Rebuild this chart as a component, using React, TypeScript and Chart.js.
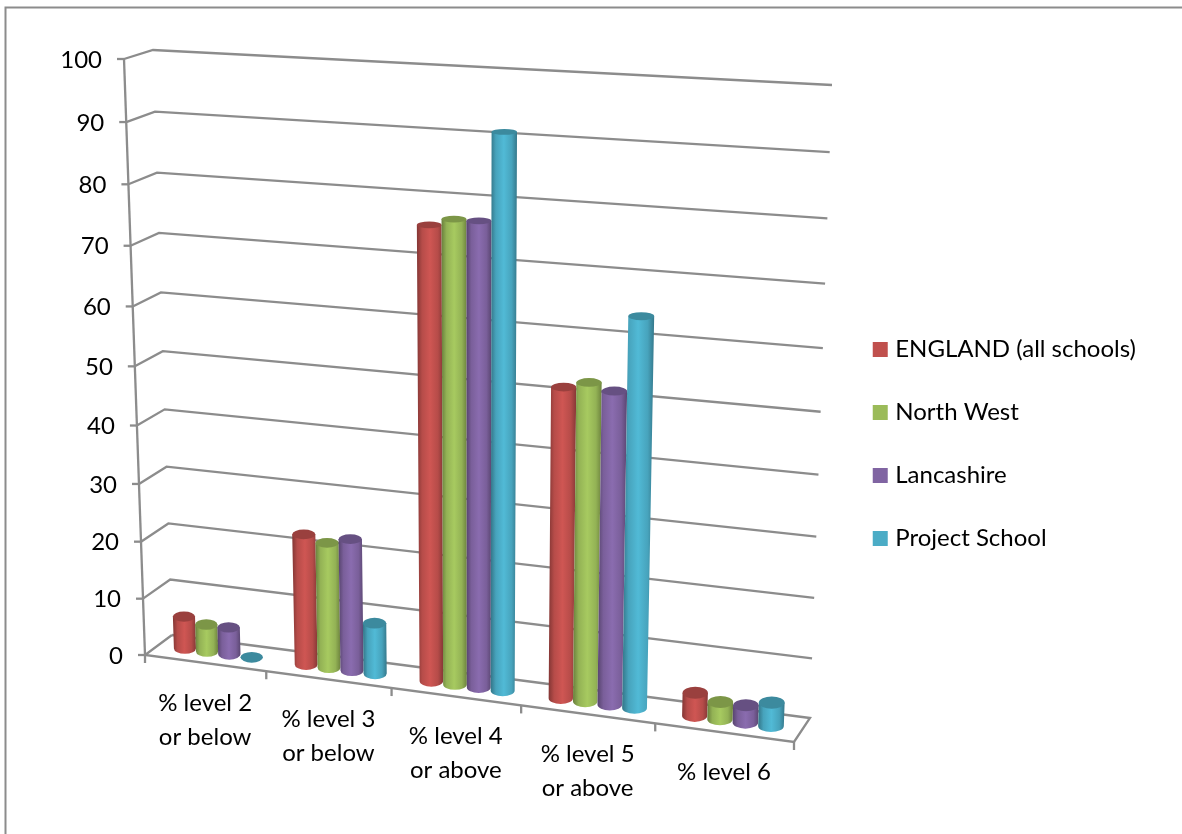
import React, { useEffect, useRef } from "react";
import { Chart, registerables } from "chart.js";

Chart.register(...registerables);

const categories = [
  ["% level 2", "or below"],
  ["% level 3", "or below"],
  ["% level 4", "or above"],
  ["% level 5", "or above"],
  ["% level 6"],
];
const englandValues = [5.7, 22.7, 75.8, 51.7, 3.9];
const northWestValues = [4.8, 21.7, 77, 52.8, 2.9];
const lancashireValues = [4.8, 22.8, 77, 51.8, 2.9];
const projectSchoolValues = [0, 8.8, 91.1, 64, 3.9];
const yTicks = { min: 0, max: 100, step: 10 };

const COLORS = ["#C0504D", "#9BBB59", "#8064A2", "#4BACC6"];
const FONT = "Lato, Carlito, sans-serif";
const GRID = "#8c8c8c";

type Pt = { x: number; y: number };
type Quad = [Pt, Pt, Pt, Pt];

// Perspective map from the unit square onto a quadrilateral
function squareToQuad(q: Quad) {
  const [p0, p1, p2, p3] = q;
  const sx = p0.x - p1.x + p2.x - p3.x;
  const sy = p0.y - p1.y + p2.y - p3.y;
  const dx1 = p1.x - p2.x;
  const dx2 = p3.x - p2.x;
  const dy1 = p1.y - p2.y;
  const dy2 = p3.y - p2.y;
  const den = dx1 * dy2 - dx2 * dy1;
  const g = (sx * dy2 - dx2 * sy) / den;
  const h = (dx1 * sy - sx * dy1) / den;
  const a = p1.x - p0.x + g * p1.x;
  const b = p3.x - p0.x + h * p3.x;
  const d = p1.y - p0.y + g * p1.y;
  const e = p3.y - p0.y + h * p3.y;
  return (u: number, v: number): Pt => {
    const w = g * u + h * v + 1;
    return { x: (a * u + b * v + p0.x) / w, y: (d * u + e * v + p0.y) / w };
  };
}

// The 3D box: corners are given as floor-left, floor-right, top-right, top-left
const frontPlane = squareToQuad([
  { x: 145, y: 655 },
  { x: 794, y: 742 },
  { x: 817, y: 96 },
  { x: 124, y: 59 },
]);
const backPlane = squareToQuad([
  { x: 172, y: 635 },
  { x: 810, y: 718 },
  { x: 832, y: 85 },
  { x: 153, y: 50 },
]);
// u runs along the categories, v up the value axis, w from front to back
const project = (u: number, v: number, w: number): Pt => {
  const f = frontPlane(u, v);
  const b = backPlane(u, v);
  return { x: f.x + (b.x - f.x) * w, y: f.y + (b.y - f.y) * w };
};

function shade(hex: string, k: number) {
  const n = parseInt(hex.slice(1), 16);
  const ch = (c: number) => Math.max(0, Math.min(255, Math.round(c * k)));
  return `rgb(${ch(n >> 16)},${ch((n >> 8) & 255)},${ch(n & 255)})`;
}

const CYLINDER_DEPTH = 0.26;

function drawCylinder(
  ctx: CanvasRenderingContext2D,
  color: string,
  uL: number,
  uR: number,
  vBase: number,
  vTop: number
) {
  const uC = (uL + uR) / 2;
  const ends = [vBase, vTop].map((v) => {
    const c = project(uC, v, 0.5);
    const l = project(uL, v, 0.5);
    const r = project(uR, v, 0.5);
    const nearP = project(uC, v, 0.5 - CYLINDER_DEPTH);
    const farP = project(uC, v, 0.5 + CYLINDER_DEPTH);
    return { c, rx: (r.x - l.x) / 2, ry: Math.abs(nearP.y - farP.y) / 2 };
  });
  const [bot, top] = ends;
  const left = Math.min(bot.c.x - bot.rx, top.c.x - top.rx);
  const right = Math.max(bot.c.x + bot.rx, top.c.x + top.rx);
  const grad = ctx.createLinearGradient(left, 0, right, 0);
  grad.addColorStop(0, shade(color, 0.68));
  grad.addColorStop(0.2, shade(color, 0.95));
  grad.addColorStop(0.5, shade(color, 1.08));
  grad.addColorStop(0.8, shade(color, 0.95));
  grad.addColorStop(1, shade(color, 0.7));

  if (vTop > vBase) {
    ctx.beginPath();
    ctx.moveTo(top.c.x - top.rx, top.c.y);
    ctx.lineTo(bot.c.x - bot.rx, bot.c.y);
    ctx.ellipse(bot.c.x, bot.c.y, bot.rx, bot.ry, 0, Math.PI, 0, true);
    ctx.lineTo(top.c.x + top.rx, top.c.y);
    ctx.closePath();
    ctx.fillStyle = grad;
    ctx.fill();
  }
  ctx.beginPath();
  ctx.ellipse(top.c.x, top.c.y, top.rx, top.ry, 0, 0, Math.PI * 2);
  ctx.fillStyle = shade(color, 0.8);
  ctx.fill();
}

const perspectivePlugin = {
  id: "perspectiveBox",
  beforeDatasetsDraw(chart: any) {
    const { ctx, chartArea: area, scales } = chart;
    const toU = (px: number) => (px - area.left) / (area.right - area.left);
    const toV = (py: number) => (area.bottom - py) / (area.bottom - area.top);
    const line = (pts: Pt[], width = 2.3) => {
      ctx.beginPath();
      pts.forEach((p, i) => (i ? ctx.lineTo(p.x, p.y) : ctx.moveTo(p.x, p.y)));
      ctx.lineWidth = width;
      ctx.strokeStyle = GRID;
      ctx.stroke();
    };

    ctx.save();
    // Outer frame, open on the right and bottom
    line([{ x: 5.5, y: 834 }, { x: 5.5, y: 7.5 }, { x: 1182, y: 7.5 }], 2);

    // Side wall, back wall and value labels
    ctx.font = `24px ${FONT}`;
    ctx.fillStyle = "#000";
    ctx.textAlign = "right";
    ctx.textBaseline = "middle";
    scales.y.ticks.forEach((t: any) => {
      const v = toV(scales.y.getPixelForValue(t.value));
      const f = project(0, v, 0);
      if (t.value > 0) {
        line([project(0, v, 0), project(0, v, 1), project(1, v, 1)]);
      }
      line([{ x: f.x - 7, y: f.y }, f]);
      ctx.fillText(String(t.value), f.x - 22, f.y + 1);
    });
    line([project(0, 1, 0), project(0, 0, 0)]);

    // Floor outline with the category ticks
    line([project(0, 0, 1), project(0, 0, 0), project(1, 0, 0), project(1, 0, 1), project(0, 0, 1)]);
    for (let i = 0; i <= categories.length; i++) {
      const p = project(i / categories.length, 0, 0);
      line([p, { x: p.x, y: p.y + 8 }]);
    }

    // Category labels stay horizontal below the slanted floor edge
    ctx.textAlign = "center";
    chart.data.labels.forEach((lab: string[], i: number) => {
      const p = project(toU(scales.x.getPixelForValue(i)), 0, 0);
      lab.forEach((text, row) => ctx.fillText(text, p.x, p.y + 40 + row * 34));
    });

    // Cylinders, left to right so each one overlaps the previous
    const zero = toV(scales.y.getPixelForValue(0));
    for (let i = 0; i < categories.length; i++) {
      chart.data.datasets.forEach((_: any, ds: number) => {
        const bar = chart.getDatasetMeta(ds).data[i];
        const half = bar.width / 2;
        drawCylinder(ctx, COLORS[ds], toU(bar.x - half), toU(bar.x + half), zero, toV(bar.y));
      });
    }
    ctx.restore();
    return false;
  },
};

export default function App() {
  const ref = useRef<HTMLCanvasElement>(null);
  useEffect(() => {
    const series = [
      ["ENGLAND (all schools)", englandValues],
      ["North West", northWestValues],
      ["Lancashire", lancashireValues],
      ["Project School", projectSchoolValues],
    ] as const;
    const chart = new Chart(ref.current!, {
      type: "bar",
      data: {
        labels: categories as any,
        datasets: series.map(([label, data], i) => ({
          label,
          data: [...data],
          backgroundColor: COLORS[i],
          borderWidth: 0,
          categoryPercentage: 0.74,
          barPercentage: 1,
        })),
      },
      options: {
        animation: false,
        responsive: false,
        layout: { padding: { top: 54, right: 36, left: 0, bottom: 0 } },
        scales: {
          x: { display: false },
          y: { display: false, min: yTicks.min, max: yTicks.max, ticks: { stepSize: yTicks.step } },
        },
        plugins: {
          tooltip: { enabled: false },
          legend: {
            position: "right",
            align: "center",
            labels: {
              usePointStyle: true,
              pointStyle: "rect",
              boxWidth: 6,
              boxHeight: 15,
              padding: 39,
              color: "#000",
              font: { family: FONT, size: 24 },
            },
          },
        },
      },
      plugins: [perspectivePlugin],
    } as any);
    return () => chart.destroy();
  }, []);
  return (
    <div style={{ position: "absolute", left: 0, top: 0, width: 1182, height: 834, background: "#fff", overflow: "hidden" }}>
      <canvas ref={ref} width={1182} height={834} style={{ display: "block" }} />
    </div>
  );
}
